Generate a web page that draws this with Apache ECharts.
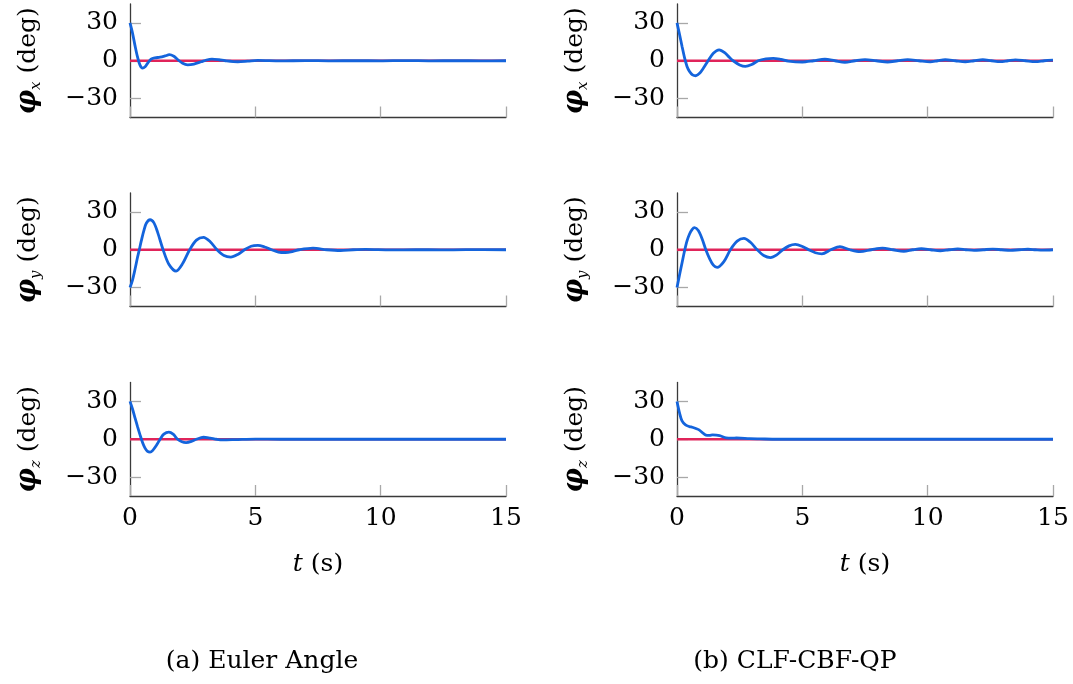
<!DOCTYPE html>
<html><head><meta charset="utf-8">
<script src="https://cdn.jsdelivr.net/npm/echarts@6/dist/echarts.min.js"></script>
<style>html,body{margin:0;padding:0;background:#fff}#c{width:1073px;height:684px}</style>
</head><body><div id="c"></div>
<script>
// ---- data ----
const xTicks = [0, 5, 10, 15];
const yTicks = [-30, 0, 30];
const axisSubs = ['x', 'y', 'z'];
const captions = ['(a) Euler Angle', '(b) CLF-CBF-QP'];
const refT = [0, 15];
const refV = [0, 0];

const eulerX_t = [0,0.1,0.2,0.3,0.4,0.5,0.6,0.7,0.84,1.0,1.2,1.4,1.57,1.75,1.9,2.1,2.3,2.55,2.84,3.05,3.27,3.55,3.8,4.3,4.7,5.1,6,7,8,9,10,11,12,13,14,15];
const eulerX_v = [30,22,12,3,-3.5,-5.8,-4.8,-2,1.3,2.3,2.8,3.8,4.8,3.5,1,-2,-3.2,-2.6,-0.8,0.6,1.3,0.8,0,-0.8,-0.3,0.3,-0.15,0.15,-0.1,0.1,-0.1,0.15,-0.1,0.1,-0.1,0];

const eulerY_t = [0,0.1,0.2,0.3,0.37,0.45,0.55,0.65,0.8,0.95,1.1,1.32,1.55,1.84,2.1,2.38,2.65,2.93,3.2,3.47,3.75,4.02,4.3,4.57,4.83,5.1,5.37,5.65,5.92,6.2,6.48,6.75,7.3,7.85,8.4,8.9,9.4,10.4,11.4,12.4,13.4,15];
const eulerY_v = [-30,-24,-15.5,-6,0,7,15,21,23.8,21.5,14,0,-11.5,-17,-11,0,7.6,9.8,6.4,0,-4.6,-5.8,-3.7,0,2.8,3.5,2.2,0,-1.8,-2.2,-1.4,0,1.3,0,-0.6,0,0.3,-0.15,0.1,-0.1,0.05,0];

const eulerZ_t = [0,0.1,0.2,0.3,0.4,0.5,0.6,0.7,0.8,0.9,1.05,1.2,1.35,1.55,1.72,1.9,2.07,2.24,2.45,2.65,2.93,3.2,3.45,3.7,4.2,5,6,15];
const eulerZ_v = [30,24,17,10,3.5,-2.5,-7,-9.6,-10.2,-9,-5,0,4,5.6,4,0,-2,-2.6,-1.7,0,1.6,0.9,0,-0.5,-0.3,0.1,0,0];

const clfX_t = [0,0.1,0.2,0.3,0.4,0.5,0.62,0.75,0.9,1.05,1.24,1.45,1.68,1.9,2.1,2.24,2.5,2.73,2.98,3.24,3.55,3.84,4.15,4.44,5.0,5.45,5.9,6.3,6.7,7.1,7.5,7.95,8.4,8.8,9.2,9.65,10.1,10.4,10.7,11.1,11.5,11.85,12.2,12.55,12.9,13.2,13.5,13.9,14.3,14.65,15];
const clfX_v = [30,21,11.5,2.5,-4.5,-8.5,-11.2,-11.9,-10,-6,0,6,8.7,6.5,2.5,0,-3.3,-4.5,-3,0,1.5,1.9,1,-0.3,-1.0,0,1.2,0,-1.2,0,0.9,0,-1.0,0,0.9,0,-0.9,0,0.8,0,-0.8,0,0.8,0,-0.7,0,0.7,0,-0.7,0,0.5];

const clfY_t = [0,0.1,0.2,0.3,0.4,0.5,0.6,0.7,0.85,1.0,1.15,1.3,1.45,1.6,1.87,2.13,2.4,2.67,2.93,3.2,3.46,3.73,3.98,4.22,4.47,4.72,4.98,5.25,5.52,5.78,6.14,6.5,6.9,7.3,7.75,8.2,8.62,9.05,9.4,9.75,10.12,10.5,10.85,11.2,11.52,11.85,12.22,12.6,12.95,13.3,13.65,14.0,14.3,14.6,15];
const clfY_v = [-30,-20,-10.5,-1,7,12.5,16,17.5,15.2,8.7,0,-7,-12.2,-14,-9.4,0,6.8,9,5.9,0,-4.6,-6.2,-4.1,0,3.1,4.2,2.8,0,-2.4,-3.2,0,2.4,0,-1.5,0,1.3,0,-1.2,0,0.8,0,-0.8,0,0.6,0,-0.5,0,0.5,0,-0.5,0,0.4,0,-0.3,0];

const clfZ_t = [0,0.1,0.2,0.34,0.5,0.61,0.75,0.88,1.0,1.15,1.3,1.42,1.7,1.96,2.2,2.37,2.9,3.3,4,15];
const clfZ_v = [30,21,14.5,11.4,10,9.5,8.5,7.4,5.5,3.2,3.0,3.4,2.9,1.1,0.9,1.0,0.5,0.3,0,0];

const panels = [
  [eulerX_t, eulerX_v], [eulerY_t, eulerY_v], [eulerZ_t, eulerZ_v],
  [clfX_t, clfX_v], [clfY_t, clfY_v], [clfZ_t, clfZ_v]
];

// ---- layout / style ----
const FONT = '"DejaVu Serif", "Liberation Serif", serif';
const FS = 25;
const RED = '#e0245a';
const BLUE = '#1464dc';
const AXIS = '#3a3a3a';
const TICK = '#a8a8a8';
const lefts = [130, 677];
const tops = [4, 193, 382.5];
const W = 376, H = 113.5;

const zip = (a, b) => a.map((x, i) => [x, b[i]]);

const grid = [], xAxis = [], yAxis = [], series = [];
for (let c = 0; c < 2; c++) {
  for (let r = 0; r < 3; r++) {
    const i = c * 3 + r;
    grid.push({ left: lefts[c], top: tops[r], width: W, height: H });
    const bottom = r === 2;
    xAxis.push({
      type: 'value', gridIndex: i, min: xTicks[0], max: xTicks[xTicks.length - 1], interval: 5,
      axisLine: { onZero: false, lineStyle: { color: AXIS, width: 1.3 } },
      axisTick: { inside: true, length: 11, lineStyle: { color: TICK, width: 1.3 } },
      axisLabel: { show: bottom, margin: 10, color: '#000', fontFamily: FONT, fontSize: FS },
      splitLine: { show: false },
      name: bottom ? '{i|t} (s)' : '',
      nameLocation: 'middle', nameGap: 56,
      nameTextStyle: { color: '#000', fontFamily: FONT, fontSize: FS,
        rich: { i: { fontStyle: 'italic', fontFamily: FONT, fontSize: FS, color: '#000' } } }
    });
    yAxis.push({
      type: 'value', gridIndex: i, min: -45, max: 45,
      axisLine: { show: true, onZero: false, lineStyle: { color: AXIS, width: 1.3 } },
      axisTick: { show: true, inside: true, length: 11, customValues: yTicks, lineStyle: { color: TICK, width: 1.3 } },
      axisLabel: { margin: 12, color: '#000', fontFamily: FONT, fontSize: FS, customValues: yTicks,
        formatter: v => (v < 0 ? '\u2212' + Math.abs(v) : String(v)) },
      splitLine: { show: false },
      name: '{p|\u03C6}{s|' + axisSubs[r] + '}{n| (deg)}',
      nameLocation: 'middle', nameRotate: 90, nameGap: 86,
      nameTextStyle: {
        color: '#000', fontFamily: FONT, fontSize: FS,
        rich: {
          p: { fontFamily: FONT, fontStyle: 'italic', fontWeight: 'bold', fontSize: 27, lineHeight: 32, color: '#000' },
          s: { fontFamily: FONT, fontStyle: 'italic', fontSize: 15, lineHeight: 13, verticalAlign: 'bottom', color: '#000' },
          n: { fontFamily: FONT, fontSize: FS, lineHeight: 32, color: '#000' }
        }
      }
    });
    series.push({
      type: 'line', xAxisIndex: i, yAxisIndex: i, data: zip(refT, refV),
      showSymbol: false, silent: true, lineStyle: { color: RED, width: 2.6 }, z: 2
    });
    series.push({
      type: 'line', xAxisIndex: i, yAxisIndex: i, data: zip(panels[i][0], panels[i][1]),
      showSymbol: false, smooth: 0.3, silent: true, lineStyle: { color: BLUE, width: 2.8 }, z: 3
    });
  }
}

const chart = echarts.init(document.getElementById('c'), null, { renderer: 'canvas' });
chart.setOption({
  animation: false,
  backgroundColor: '#fff',
  grid, xAxis, yAxis, series,
  graphic: [
    { type: 'text', x: 262, y: 661, style: { text: captions[0], textAlign: 'center', textVerticalAlign: 'middle', font: FS + 'px ' + FONT, fill: '#000' } },
    { type: 'text', x: 795, y: 661, style: { text: captions[1], textAlign: 'center', textVerticalAlign: 'middle', font: FS + 'px ' + FONT, fill: '#000' } }
  ]
});
</script>
</body></html>
